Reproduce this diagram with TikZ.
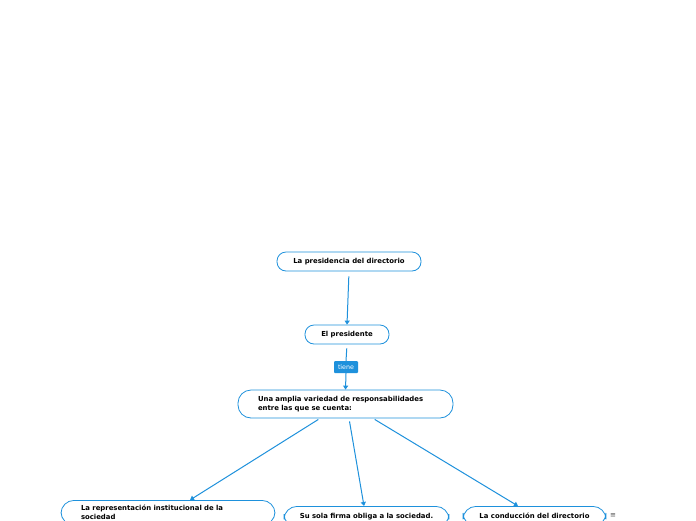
\documentclass[tikz,border=0pt]{standalone}
\usepackage{fontspec}
\setmainfont{DejaVu Sans}
\usetikzlibrary{arrows.meta}
\definecolor{lblue}{RGB}{30,145,220}
\begin{document}
\begin{tikzpicture}[x=1pt,y=-1pt,
 box/.style={draw=lblue, line width=0.8pt, rounded corners=9pt, fill=white, font=\bfseries\fontsize{6.9}{9}\selectfont, inner sep=0pt},
 conn/.style={draw=lblue, line width=1pt, -{Triangle[width=5pt,length=4pt]}},
 plain/.style={draw=lblue, line width=1pt},
 lab/.style={fill=lblue, text=white, font=\fontsize{6.3}{7}\selectfont, rounded corners=1pt, minimum width=24pt, minimum height=12pt, inner sep=0pt}]
\useasboundingbox[fill=white] (0,0) rectangle (696,520);
\clip (0,0) rectangle (696,520);
\node[box, minimum width=144pt, minimum height=19pt] (n1) at (349,261.5) {La presidencia del directorio};
\node[box, minimum width=84pt, minimum height=19pt] (n2) at (347,334.5) {El presidente};
\node[box, minimum height=28pt, text width=175pt, inner xsep=20pt, align=left, rounded corners=13pt] (n3) at (345.5,404) {Una amplia variedad de responsabilidades\\entre las que se cuenta:};
\node[lab] (t) at (346,367) {tiene};
\node[box, anchor=north, text width=174pt, inner xsep=20pt, inner ysep=5pt, align=left, rounded corners=13pt] (n4) at (168,500) {La representación institucional de la\\sociedad};
\node[box, anchor=north, minimum width=165pt, inner ysep=7pt, rounded corners=13pt] (n5) at (366.5,506) {Su sola firma obliga a la sociedad.};
\node[box, anchor=north, minimum width=143pt, inner ysep=7pt, rounded corners=13pt] (n6) at (534.5,506) {La conducción del directorio};
\node[font=\fontsize{7}{8}\selectfont, text=black!70] (menu) at (613,516) {≡};
\draw[conn, shorten <=5pt] (n1.south) -- (n2.north);
\draw[plain, shorten <=4pt] (n2.south) -- (t.north);
\draw[conn] (t.south) -- (n3.north);
\draw[conn, shorten <=2pt] ([xshift=-25.5pt]n3.south) -- ([xshift=22pt]n4.north);
\draw[conn, shorten <=3pt] ([xshift=3.5pt]n3.south) -- ([xshift=-2.5pt]n5.north);
\draw[conn, shorten <=2pt] ([xshift=27.5pt]n3.south) -- ([xshift=-16.5pt]n6.north);
\end{tikzpicture}
\end{document}
